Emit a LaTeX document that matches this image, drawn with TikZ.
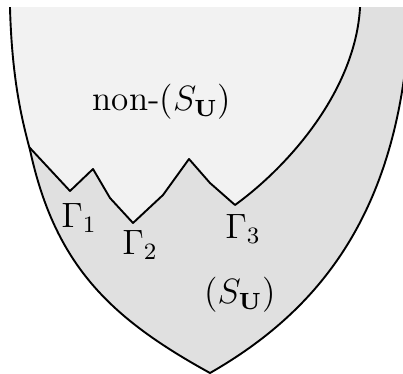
\documentclass[tikz,border=0pt]{standalone}
\usepackage{amsmath,amssymb}
\usepackage{tikz}
\usetikzlibrary{positioning,calc}
\definecolor{outerfill}{HTML}{E0E0E0}
\definecolor{innerfill}{HTML}{F2F2F2}

\begin{document}
\begin{tikzpicture}[
  x=0.012cm, y=-0.012cm,
  bdry/.style={draw=black, line width=0.65pt, line join=round},
  lbl/.style={font=\large, inner sep=0pt},
]
\useasboundingbox (0,0) rectangle (403,374);
\clip (0,8) rectangle (403,380);
% ---------- outer region (S_U) ----------
\def\outerline{(10,-10) -- (10,8) .. controls (12,80) and (22,120) .. (30,150)
  .. controls (55,265) and (110,318) .. (210,373)
  .. controls (320,310) and (403,210) .. (410,8) -- (411,-10)}
\begin{scope}
  \clip \outerline -- cycle;
  \fill[outerfill] (-10,-10) rectangle (430,400);
  % ---------- inner region non-(S_U) ----------
  \fill[innerfill] (-10,-10) -- (-10,141) -- (25,142) -- (30,148) -- (70,191) -- (93,169) -- (110,198)
    -- (133,223) -- (163,195) -- (189,159) -- (210,183) -- (235,205)
    .. controls (290,165) and (355,90) .. (360,8) -- (361,-10) -- cycle;
  \draw[bdry] (24,141) -- (30,148) -- (70,191) -- (93,169) -- (110,198) -- (133,223)
    -- (163,195) -- (189,159) -- (210,183) -- (235,205)
    .. controls (290,165) and (355,90) .. (360,8) -- (361,-10);
\end{scope}
\draw[bdry] \outerline;
% ---------- labels ----------
\node[lbl] (nonsu) at (162,102) {non-($S_{\mathbf{U}}$)};
\node[lbl] (su) at (240,295) {($S_{\mathbf{U}}$)};
\node[lbl] (g1) at (79,218) {$\Gamma_1$};
\node[lbl] (g2) at (140,245) {$\Gamma_2$};
\node[lbl] (g3) at (243,229) {$\Gamma_3$};
\end{tikzpicture}
\end{document}
